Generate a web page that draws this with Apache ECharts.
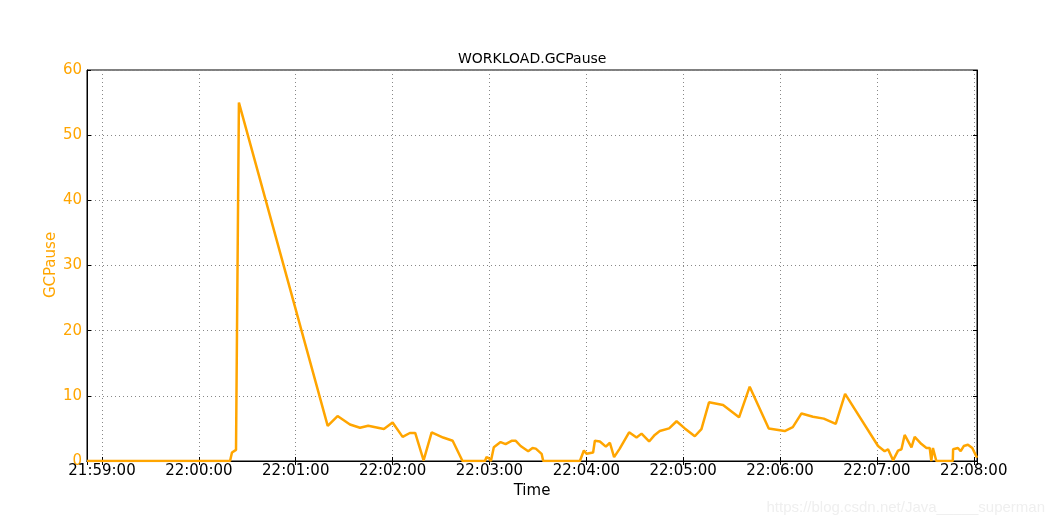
<!DOCTYPE html>
<html>
<head>
<meta charset="utf-8">
<script src="https://cdn.jsdelivr.net/npm/echarts@6/dist/echarts.min.js"></script>
<style>html,body{margin:0;padding:0;background:#fff}#c{width:1053px;height:525px}</style>
</head>
<body>
<div id="c"></div>
<script>
// seconds after 21:59:00
const secondsAfter2159 = [-9.3, 79.3, 80.5, 83.0, 84.8, 139.8, 145.9, 153.6, 159.8, 164.9, 174.6, 180.0, 186.2, 190.7, 194.0, 199.2, 204.2, 211.3, 217.2, 223.3, 237.2, 238.2, 239.8, 240.9, 242.7, 246.9, 250.0, 253.7, 256.3, 259.3, 264.0, 266.7, 268.7, 272.3, 273.3, 296.0, 298.5, 300.1, 301.1, 304.2, 305.3, 308.4, 312.1, 314.6, 317.2, 320.7, 326.5, 331.1, 334.2, 338.9, 342.4, 345.5, 351.3, 355.9, 361.0, 367.2, 371.3, 376.0, 384.7, 394.6, 401.2, 413.0, 422.9, 427.9, 433.3, 440.4, 447.1, 454.5, 460.3, 480.7, 484.8, 486.9, 490.0, 493.1, 495.2, 497.2, 501.4, 503.4, 507.6, 510.7, 512.7, 513.7, 514.7, 516.8, 527.0, 527.2, 530.2, 531.9, 533.8, 536.4, 539.1, 542.0];
const gcPause = [0, 0, 1.3, 1.7, 55.0, 5.4, 6.9, 5.6, 5.1, 5.4, 4.9, 5.9, 3.7, 4.3, 4.3, 0.1, 4.4, 3.6, 3.1, 0, 0, 0.6, 0.4, 0, 2.1, 2.9, 2.6, 3.1, 3.1, 2.3, 1.5, 2.0, 1.9, 1.1, 0, 0, 1.6, 1.1, 1.3, 1.3, 3.1, 3.0, 2.2, 2.8, 0.6, 1.9, 4.4, 3.6, 4.2, 3.0, 4.0, 4.6, 5.0, 6.1, 5.0, 3.8, 4.9, 9.0, 8.6, 6.7, 11.4, 5.0, 4.6, 5.2, 7.3, 6.8, 6.5, 5.7, 10.3, 2.3, 1.5, 1.8, 0.1, 1.6, 1.8, 4.0, 2.1, 3.7, 2.6, 2.0, 2.0, 0, 2.0, 0, 0, 1.8, 2.0, 1.5, 2.3, 2.5, 2.0, 0.5];
const yTicks = [0, 10, 20, 30, 40, 50, 60];

const base = new Date(2019, 0, 1, 21, 59, 0).getTime();
const data = secondsAfter2159.map((s, i) => [base + s * 1000, gcPause[i]]);
const pad = n => String(n).padStart(2, '0');
const fmt = v => { const d = new Date(v); return pad(d.getHours()) + ':' + pad(d.getMinutes()) + ':' + pad(d.getSeconds()); };

const chart = echarts.init(document.getElementById('c'));
const FONT = 'DejaVu Sans';
const ORANGE = '#ffa500';
const GRIDLINE = { show: true, lineStyle: { color: '#888', type: [1, 3], width: 1 } };
chart.setOption({
  animation: false,
  textStyle: { fontFamily: FONT },
  grid: { left: 87, right: 76, top: 70, bottom: 64, show: true, borderColor: '#000', borderWidth: 1, backgroundColor: 'transparent' },
  graphic: [
    { type: 'text', left: 532 - 74, top: 52, style: { text: 'WORKLOAD.GCPause', fontFamily: FONT, fontSize: 14, fill: '#000' } },
    { type: 'text', x: 51, y: 265, rotation: Math.PI / 2, style: { text: 'GCPause', fontFamily: FONT, fontSize: 15, fill: ORANGE, align: 'center', verticalAlign: 'middle' } },
    { type: 'text', right: 8, top: 500, style: { text: 'https://blog.csdn.net/Java_____superman', fontFamily: 'Liberation Sans', fontSize: 15, fill: '#efefef' } }
  ],
  xAxis: [{
    type: 'time',
    min: base - 9.3 * 1000,
    max: base + 542 * 1000,
    minInterval: 60000,
    maxInterval: 60000,
    name: 'Time',
    nameLocation: 'middle',
    nameGap: 22,
    nameTextStyle: { color: '#000', fontSize: 15, fontFamily: FONT },
    axisLine: { lineStyle: { color: '#000', width: 1 } },
    axisTick: { show: true, inside: true, length: 4, lineStyle: { color: '#000' } },
    axisLabel: { color: '#000', fontSize: 15, fontFamily: FONT, margin: 3, formatter: fmt, showMinLabel: false, showMaxLabel: false, hideOverlap: false },
    splitLine: GRIDLINE
  }, {
    type: 'time',
    position: 'top',
    min: base - 9.3 * 1000,
    max: base + 542 * 1000,
    minInterval: 60000,
    maxInterval: 60000,
    axisLine: { lineStyle: { color: '#000', width: 1 } },
    axisTick: { show: true, inside: true, length: 4, lineStyle: { color: '#000' } },
    axisLabel: { show: false },
    splitLine: { show: false }
  }],
  yAxis: [{
    type: 'value',
    min: 0, max: 60, interval: 10,
    axisLine: { show: true, lineStyle: { color: '#000', width: 1 } },
    axisTick: { show: true, inside: true, length: 4, lineStyle: { color: '#000' } },
    axisLabel: { color: ORANGE, fontSize: 15, fontFamily: FONT, margin: 5, formatter: v => yTicks.includes(v) ? String(v) : '' },
    splitLine: GRIDLINE
  }, {
    type: 'value',
    position: 'right',
    min: 0, max: 60, interval: 10,
    axisLine: { show: true, lineStyle: { color: '#000', width: 1 } },
    axisTick: { show: true, inside: true, length: 4, lineStyle: { color: '#000' } },
    axisLabel: { show: false },
    splitLine: { show: false }
  }],
  series: [{
    type: 'line',
    data: data,
    showSymbol: false,
    lineStyle: { color: ORANGE, width: 2.5 },
    itemStyle: { color: ORANGE },
    z: 3
  }]
});
</script>
</body>
</html>
